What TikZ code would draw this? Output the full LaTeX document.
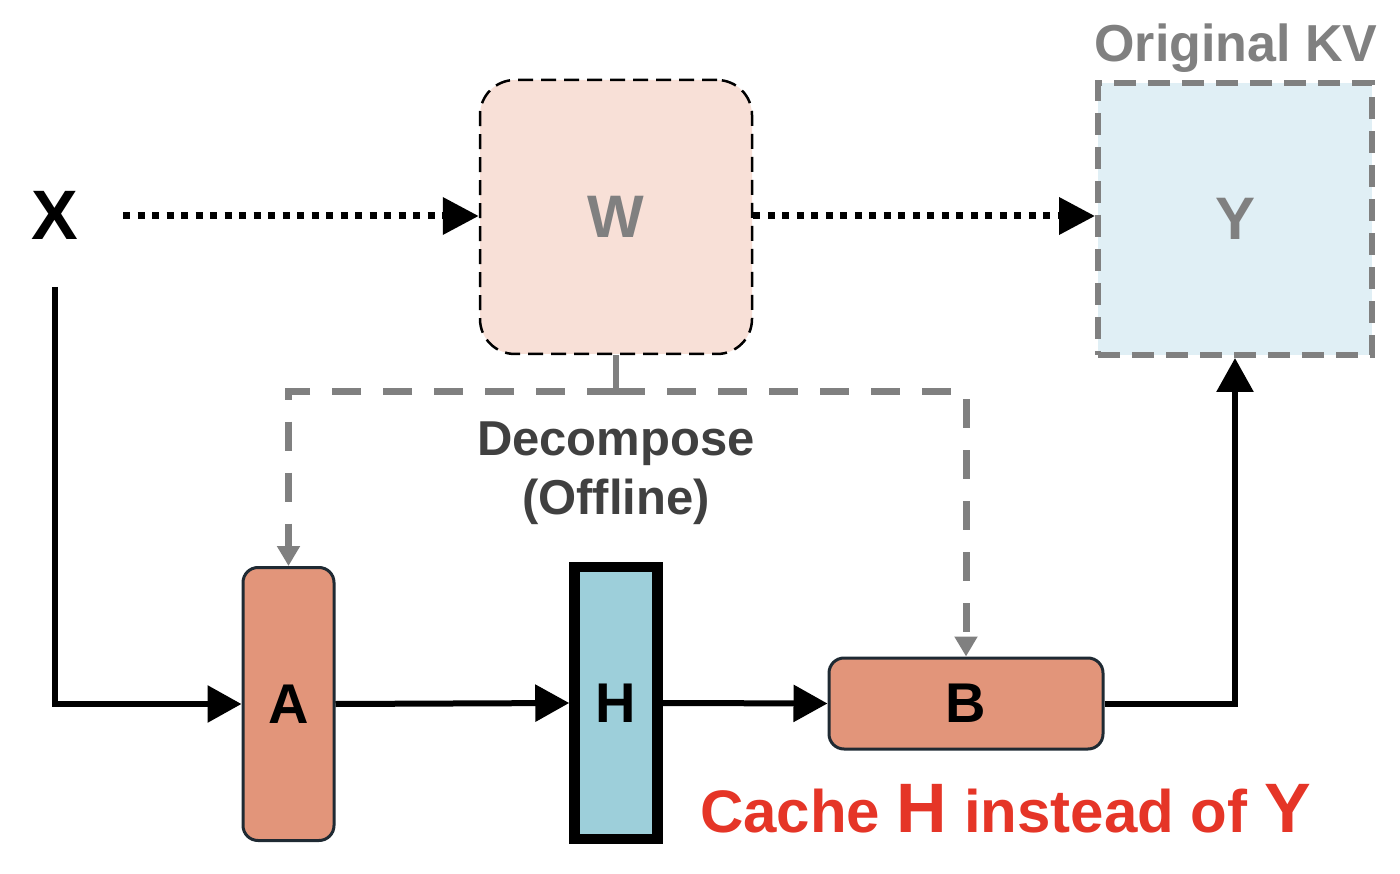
\documentclass[tikz,border=0pt]{standalone}
\usepackage{fontspec}
\setmainfont{Liberation Sans}
\usetikzlibrary{arrows.meta}
\definecolor{wfill}{HTML}{F8E0D7}
\definecolor{yfill}{HTML}{E0EFF5}
\definecolor{orfill}{HTML}{E2957A}
\definecolor{hfill}{HTML}{9DCFDA}
\definecolor{grayc}{HTML}{808080}
\definecolor{darkt}{HTML}{404040}
\definecolor{redt}{HTML}{E53527}
\definecolor{edgec}{HTML}{1F2A33}
\tikzset{
  fsz/.style={font=\fontsize{#1}{#1}\selectfont\bfseries},
  bigarrow/.style={line width=6pt, -{Triangle[length=34pt,width=36pt]}},
  dotarrow/.style={line width=7pt, dash pattern=on 7pt off 7.5pt, -{Triangle[length=36pt,width=36pt]}},
  graydash/.style={draw=grayc, line width=7pt, dash pattern=on 29pt off 22pt, -{Triangle[length=20pt,width=22pt]}},
  orbox/.style={draw=edgec, line width=3pt, fill=orfill, rounded corners=15pt, inner sep=0pt, fsz=56},
}
\begin{document}
\begin{tikzpicture}[x=1pt,y=-1pt]
\useasboundingbox (0,0) rectangle (1400,874);
% nodes
\node[fsz=70, inner sep=0pt] (X) at (55,215) {X};
\node[draw=black, line width=2.5pt, dash pattern=on 15pt off 8pt, fill=wfill, rounded corners=35pt,
      minimum width=272pt, minimum height=274pt, inner sep=0pt, fsz=60, text=grayc] (W) at (616,217) {W};
\node[draw=grayc, line width=6pt, dash pattern=on 22pt off 12pt, fill=yfill,
      minimum width=274pt, minimum height=272pt, inner sep=0pt, fsz=60, text=grayc] (Y) at (1235,219) {Y};
\node[fsz=52, text=grayc, anchor=base, inner sep=0pt] (okv) at (1236,62) {Original KV};
\node[orbox, minimum width=91pt, minimum height=273pt] (A) at (288.5,704) {A};
\node[draw=black, line width=10.5pt, fill=hfill, minimum width=83pt, minimum height=272pt,
      inner sep=0pt, fsz=56] (H) at (616,703) {H};
\node[orbox, minimum width=274pt, minimum height=91pt] (B) at (966,703.5) {B};
\node[fsz=49, text=darkt, anchor=base, inner sep=0pt] (dec) at (616,455) {Decompose};
\node[fsz=49, text=darkt, anchor=base, inner sep=0pt] (off) at (616,514) {(Offline)};
\node[text=redt, anchor=base west, inner sep=0pt, font=\bfseries] (cache) at (700,832)
  {\fontsize{60}{60}\selectfont Cache {\fontsize{70}{70}\selectfont H} instead of {\fontsize{70}{70}\selectfont Y}};
% coordinates
\coordinate (xs) at (123,216);
\coordinate (xd) at (55,287);
\coordinate (dsp) at (616,392);
% connectors
\draw[dotarrow] (xs) -- (W.west |- xs);
\draw[dotarrow] (W.east |- xs) -- (Y.west |- xs);
\draw[line width=6pt, -{Triangle[length=34pt,width=36pt]}] (xd) |- (A.west);
\draw[bigarrow] (A.east) -- (H.west);
\draw[bigarrow] (H.east) -- (B.west);
\draw[line width=6pt, -{Triangle[length=34pt,width=36pt]}] (B.east) -| (Y.south);
\draw[draw=grayc, line width=6pt] (W.south) -- (dsp);
\draw[graydash] (dsp) -| (A.north);
\draw[graydash] (dsp) -| (B.north);
\end{tikzpicture}
\end{document}
